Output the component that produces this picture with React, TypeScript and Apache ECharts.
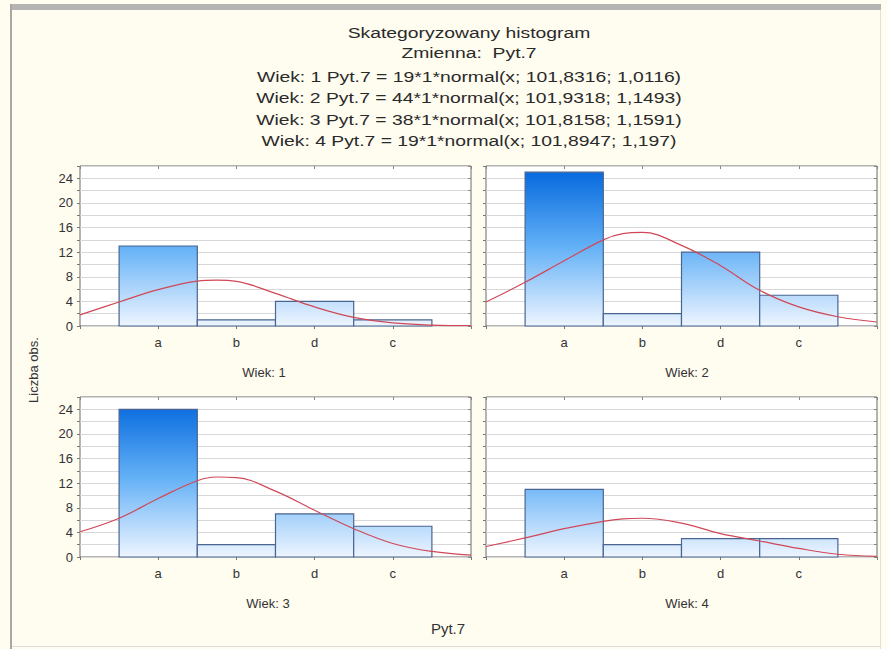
import React, { useEffect, useRef } from "react";
import * as echarts from "echarts";

const categories = ["a", "b", "d", "c"];
const panelTitles = ["Wiek: 1", "Wiek: 2", "Wiek: 3", "Wiek: 4"];
const counts1 = [13, 1, 4, 1];
const counts2 = [25, 2, 12, 5];
const counts3 = [24, 2, 7, 5];
const counts4 = [11, 2, 3, 3];
const curveX = [-1, -0.5, 0, 0.5, 0.75, 1, 1.5, 2, 2.5, 3, 3.5, 4];
const curve1 = [1.8, 3.9, 5.9, 7.3, 7.45, 7.25, 5.3, 3.1, 1.4, 0.5, 0.15, 0.05];
const curve2 = [3.9, 7.1, 10.6, 14.0, 15.0, 15.2, 13.1, 9.8, 5.8, 3.1, 1.5, 0.65];
const curve3 = [4.1, 6.3, 9.5, 12.4, 13.0, 12.9, 10.7, 7.6, 4.6, 2.2, 0.9, 0.3];
const curve4 = [1.7, 3.1, 4.6, 5.8, 6.2, 6.3, 5.5, 3.8, 2.6, 1.4, 0.45, 0.1];
const yTicks = [0, 4, 8, 12, 16, 20, 24];
const titleLines = [
  "Skategoryzowany histogram",
  "Zmienna:  Pyt.7",
  "Wiek: 1 Pyt.7 = 19*1*normal(x; 101,8316; 1,0116)",
  "Wiek: 2 Pyt.7 = 44*1*normal(x; 101,9318; 1,1493)",
  "Wiek: 3 Pyt.7 = 38*1*normal(x; 101,8158; 1,1591)",
  "Wiek: 4 Pyt.7 = 19*1*normal(x; 101,8947; 1,197)",
];
const yAxisName = "Liczba obs.";
const xAxisName = "Pyt.7";

const countsAll = [counts1, counts2, counts3, counts4];
const curvesAll = [curve1, curve2, curve3, curve4];

export default function App() {
  const ref = useRef<HTMLDivElement>(null);
  useEffect(() => {
    if (!ref.current) return;
    const chart = echarts.init(ref.current, null, { renderer: "svg" });
    const FONT = "Liberation Sans, Arial, sans-serif";
    const grids = [
      { left: 80, top: 166, width: 391, height: 160 },
      { left: 486, top: 166, width: 391, height: 160 },
      { left: 80, top: 397, width: 391, height: 160 },
      { left: 486, top: 397, width: 391, height: 160 },
    ];
    const grid = grids.map((g) => ({
      ...g,
      show: true,
      backgroundColor: "#ffffff",
      borderColor: "#6a6a6a",
      borderWidth: 1,
    }));
    const xAxis: any[] = [];
    const yAxis: any[] = [];
    const series: any[] = [];
    grids.forEach((g, i) => {
      xAxis.push({
        type: "value",
        gridIndex: i,
        min: -1,
        max: 4,
        interval: 1,
        position: "bottom",
        axisLine: { show: false, onZero: false },
        axisTick: { show: true, length: 3, lineStyle: { color: "#777" } },
        splitLine: { show: false },
        axisLabel: {
          formatter: (v: number) => categories[v] ?? "",
          color: "#333",
          fontSize: 13,
          fontFamily: FONT,
          margin: 10,
          showMinLabel: true,
          showMaxLabel: true,
        },
      });
      xAxis.push({
        type: "value",
        gridIndex: i,
        min: -1,
        max: 4,
        interval: 1,
        position: "top",
        axisLine: { show: false, onZero: false },
        axisTick: { show: true, inside: true, length: 3, lineStyle: { color: "#888" } },
        splitLine: { show: false },
        axisLabel: { show: false },
      });
      yAxis.push({
        type: "value",
        gridIndex: i,
        min: 0,
        max: 26,
        interval: 2,
        position: "left",
        axisLine: { show: false, onZero: false },
        axisTick: { show: true, length: 3, lineStyle: { color: "#777" } },
        splitLine: { show: true, lineStyle: { color: "#d8d8d8", width: 1 } },
        axisLabel: {
          show: i % 2 === 0,
          formatter: (v: number) => (yTicks.includes(v) ? String(v) : ""),
          color: "#333",
          fontSize: 13,
          fontFamily: FONT,
          margin: 7,
        },
      });
      yAxis.push({
        type: "value",
        gridIndex: i,
        min: 0,
        max: 26,
        interval: 2,
        position: "right",
        axisLine: { show: false, onZero: false },
        axisTick: { show: true, inside: true, length: 3, lineStyle: { color: "#888" } },
        splitLine: { show: false },
        axisLabel: { show: false },
      });
      const grad = new echarts.graphic.LinearGradient(
        0,
        g.top,
        0,
        g.top + g.height,
        [
          { offset: 0, color: "#0064dc" },
          { offset: 0.5, color: "#62b0f6" },
          { offset: 1, color: "#eef5ff" },
        ],
        true
      );
      series.push({
        type: "custom",
        xAxisIndex: i * 2,
        yAxisIndex: i * 2,
        data: countsAll[i].map((v, k) => [k, v]),
        encode: { x: 0, y: 1 },
        renderItem: (params: any, api: any) => {
          const x = api.value(0);
          const v = api.value(1);
          const p0 = api.coord([x - 0.5, v]);
          const p1 = api.coord([x + 0.5, 0]);
          return {
            type: "rect",
            shape: { x: p0[0], y: p0[1], width: p1[0] - p0[0], height: p1[1] - p0[1] },
            style: { fill: grad, stroke: "#4a6590", lineWidth: 1.2 },
          };
        },
        z: 2,
      });
      series.push({
        type: "line",
        xAxisIndex: i * 2,
        yAxisIndex: i * 2,
        data: curveX.map((x, k) => [x, curvesAll[i][k]]),
        smooth: 0.4,
        symbol: "none",
        lineStyle: { color: "#d04858", width: 1.2 },
        z: 3,
      });
    });

    const graphic: any[] = [
      { type: "rect", shape: { x: 10, y: 4, width: 871, height: 6 }, style: { fill: "#b4b4b4" }, z: 10 },
      { type: "rect", shape: { x: 10, y: 4, width: 2, height: 645 }, style: { fill: "#a8a8a8" }, z: 10 },
      { type: "rect", shape: { x: 880, y: 10, width: 1, height: 639 }, style: { fill: "#e0e0e0" }, z: 10 },
      { type: "rect", shape: { x: 12, y: 646, width: 868, height: 1 }, style: { fill: "#dcdcdc" }, z: 10 },
    ];
    const titleY = [33, 53, 77, 98, 120, 141];
    titleLines.forEach((t, k) => {
      graphic.push({
        type: "text",
        x: 469,
        y: titleY[k],
        scaleX: 1.38,
        style: {
          text: t,
          fill: "#2a2a2a",
          font: `14px ${FONT}`,
          textAlign: "center",
          textVerticalAlign: "middle",
        },
      });
    });
    const ptPos = [
      [264, 372],
      [687, 372],
      [268, 603],
      [687, 603],
    ];
    panelTitles.forEach((t, k) => {
      graphic.push({
        type: "text",
        x: ptPos[k][0],
        y: ptPos[k][1],
        style: { text: t, fill: "#333", font: `13px ${FONT}`, textAlign: "center", textVerticalAlign: "middle" },
      });
    });
    graphic.push({
      type: "text",
      x: 448,
      y: 628,
      style: { text: xAxisName, fill: "#333", font: `15px ${FONT}`, textAlign: "center", textVerticalAlign: "middle" },
    });
    graphic.push({
      type: "text",
      x: 33,
      y: 370,
      rotation: Math.PI / 2,
      style: { text: yAxisName, fill: "#333", font: `13px ${FONT}`, textAlign: "center", textVerticalAlign: "middle" },
    });

    chart.setOption({
      animation: false,
      backgroundColor: "#fffcf0",
      grid,
      xAxis,
      yAxis,
      series,
      graphic,
    });
    return () => chart.dispose();
  }, []);
  return (
    <div
      ref={ref}
      style={{ position: "fixed", left: 0, top: 0, width: 887, height: 649 }}
    />
  );
}
